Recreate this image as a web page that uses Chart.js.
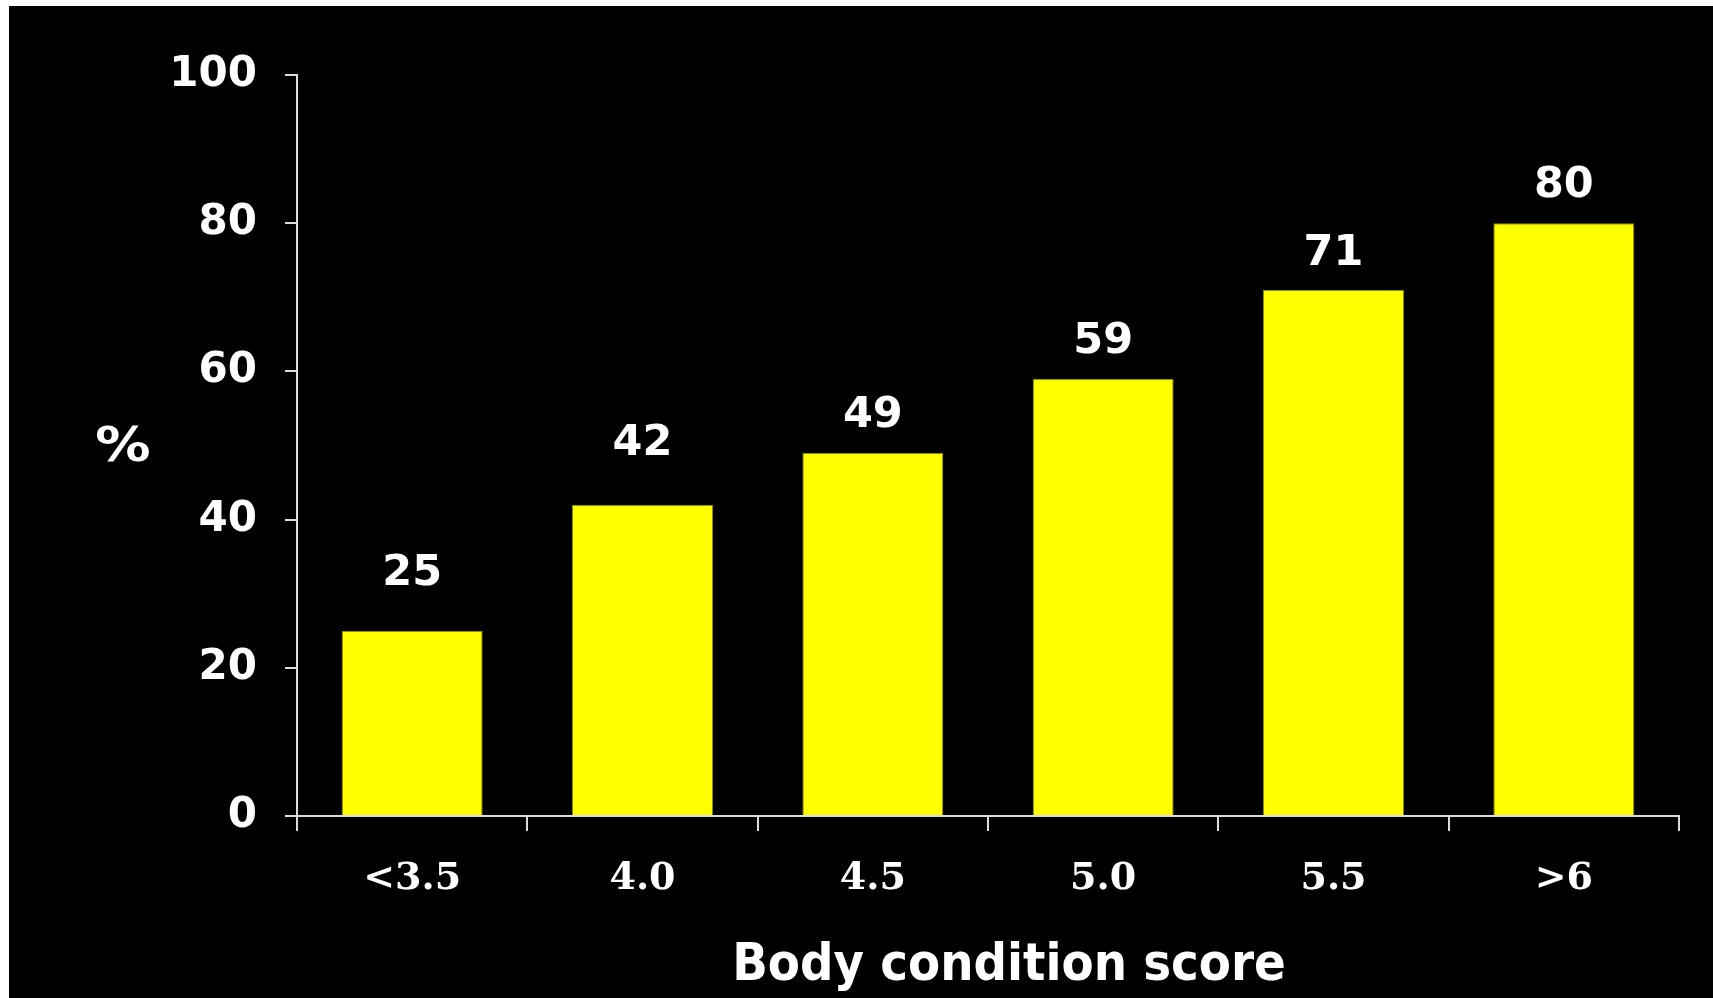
<!DOCTYPE html>
<html>
<head>
<meta charset="utf-8">
<title>Body condition score</title>
<script src="https://cdn.jsdelivr.net/npm/chart.js@4/dist/chart.umd.min.js"></script>
<style>
  html, body { margin: 0; padding: 0; background: #ffffff; overflow: hidden; }
  #frame { position: absolute; left: 9px; top: 6px; width: 1704px; height: 992px; background: #000000; }
  canvas { display: block; }
</style>
</head>
<body>
<div id="frame"><canvas id="chart" width="1704" height="992"></canvas></div>
<script>
// Share of animals (%) by body condition score
const categories = ['<3.5', '4.0', '4.5', '5.0', '5.5', '>6'];
const percentValues = [25, 42, 49, 59, 71, 80];
const yTickValues = [0, 20, 40, 60, 80, 100];

const xTitle = 'Body condition score';
const yTitle = '%';

// Gap between each value label and the top of its bar
const labelGaps = [46, 50, 26, 26, 25, 26];

const AXIS_COLOR = '#dcdcdc';
const TEXT_COLOR = '#ffffff';
const SANS = '"DejaVu Sans", Verdana, sans-serif';
const SERIF = '"DejaVu Serif", Georgia, serif';

const valueLabels = {
  id: 'valueLabels',
  afterDatasetsDraw(chart) {
    const ctx = chart.ctx;
    const meta = chart.getDatasetMeta(0);
    ctx.save();
    ctx.fillStyle = TEXT_COLOR;
    ctx.font = 'bold 43px ' + SANS;
    ctx.textAlign = 'center';
    ctx.textBaseline = 'alphabetic';
    meta.data.forEach((bar, i) => {
      const v = chart.data.datasets[0].data[i];
      ctx.fillText(String(v), bar.x, bar.y - labelGaps[i]);
    });
    ctx.restore();
  }
};

const axisTitles = {
  id: 'axisTitles',
  afterDraw(chart) {
    const ctx = chart.ctx;
    const area = chart.chartArea;
    ctx.save();
    ctx.fillStyle = TEXT_COLOR;
    // horizontal axis title, slightly condensed
    ctx.font = 'bold 52px ' + SANS;
    ctx.textAlign = 'center';
    ctx.textBaseline = 'alphabetic';
    const cx = (area.left + area.right) / 2 + 21;
    ctx.translate(cx, area.bottom + 164);
    ctx.scale(0.9, 1);
    ctx.fillText(xTitle, 0, 0);
    ctx.restore();

    // vertical axis title, kept upright
    ctx.save();
    ctx.fillStyle = TEXT_COLOR;
    ctx.font = 'bold 48px ' + SANS;
    ctx.textAlign = 'center';
    ctx.textBaseline = 'middle';
    ctx.translate(area.left - 174, (area.top + area.bottom) / 2 + 3);
    ctx.scale(1.15, 1);
    ctx.fillText(yTitle, 0, 0);
    ctx.restore();
  }
};

new Chart(document.getElementById('chart'), {
  type: 'bar',
  data: {
    labels: categories,
    datasets: [{
      data: percentValues,
      backgroundColor: '#ffff00',
      borderColor: '#8c8c00',
      borderWidth: 1,
      barPercentage: 0.612,
      categoryPercentage: 1.0
    }]
  },
  options: {
    responsive: false,
    animation: false,
    devicePixelRatio: 1,
    layout: { padding: { left: 0, right: 34, top: 69, bottom: 0 } },
    plugins: {
      legend: { display: false },
      tooltip: { enabled: false },
      title: { display: false }
    },
    scales: {
      x: {
        offset: true,
        grid: {
          offset: true,
          drawOnChartArea: false,
          drawTicks: true,
          tickLength: 15,
          color: AXIS_COLOR,
          lineWidth: 2
        },
        border: { display: true, color: AXIS_COLOR, width: 2 },
        ticks: {
          color: TEXT_COLOR,
          font: { family: SERIF, size: 38, weight: 'bold' },
          padding: 25,
          maxRotation: 0,
          autoSkip: false
        },
        afterFit(scale) { scale.height = 182; }
      },
      y: {
        min: 0,
        max: 100,
        afterBuildTicks(scale) {
          scale.ticks = yTickValues.map(v => ({ value: v }));
        },
        grid: {
          drawOnChartArea: false,
          drawTicks: true,
          tickLength: 12,
          color: AXIS_COLOR,
          lineWidth: 2
        },
        border: { display: true, color: AXIS_COLOR, width: 2 },
        ticks: {
          color: TEXT_COLOR,
          font: { family: SANS, size: 42, weight: 'bold' },
          padding: 28
        },
        afterFit(scale) { scale.width = 288; }
      }
    }
  },
  plugins: [valueLabels, axisTitles]
});
</script>
</body>
</html>
